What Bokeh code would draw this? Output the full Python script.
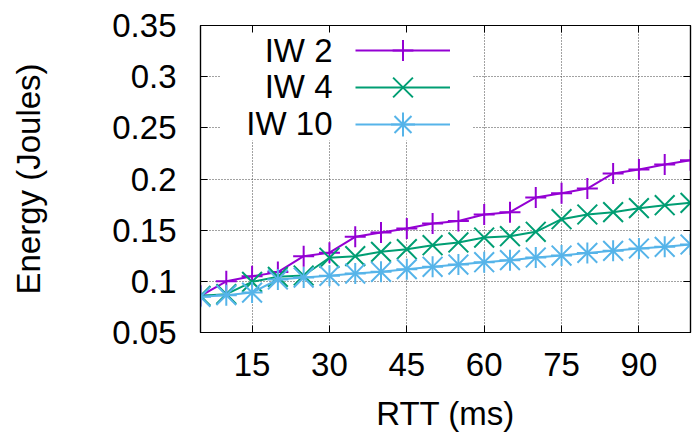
from bokeh.plotting import figure
from bokeh.models import (Range1d, FixedTicker, LinearAxis, Legend, LegendItem,
                          Label, BoxAnnotation, CustomJSTickFormatter)
from bokeh.core.properties import value
from bokeh.embed import file_html
from bokeh.resources import INLINE

# ---- data ----
rtt = [5, 10, 15, 20, 25, 30, 35, 40, 45, 50, 55, 60, 65, 70, 75, 80, 85, 90, 95, 100]
iw2 = [0.0858, 0.1000, 0.1050, 0.1090, 0.1246, 0.1280, 0.1435, 0.1477, 0.1516, 0.1565,
       0.1590, 0.1653, 0.1676, 0.1820, 0.1860, 0.1907, 0.2054, 0.2093, 0.2142, 0.2184]
iw4 = [0.0858, 0.0875, 0.0995, 0.1044, 0.1057, 0.1230, 0.1246, 0.1288, 0.1314, 0.1353,
       0.1380, 0.1428, 0.1441, 0.1484, 0.1607, 0.1653, 0.1676, 0.1715, 0.1744, 0.1767]
iw10 = [0.0849, 0.0865, 0.0890, 0.1018, 0.1037, 0.1054, 0.1076, 0.1093, 0.1119, 0.1142,
        0.1164, 0.1187, 0.1207, 0.1233, 0.1252, 0.1278, 0.1298, 0.1321, 0.1337, 0.1360]
series_names = ["IW 2", "IW 4", "IW 10"]
x_ticks = [15, 30, 45, 60, 75, 90]
y_ticks = [0.05, 0.10, 0.15, 0.20, 0.25, 0.30, 0.35]
y_tick_labels = ["0.05", "0.1", "0.15", "0.2", "0.25", "0.3", "0.35"]

FONT = "Liberation Sans"
FS = "33px"
colors = ["#9400d3", "#009e73", "#56b4e9"]
# gnuplot point types: + , x , * (= + overlaid with x)
marker_sets = [[("cross", 21)], [("x", 28)], [("cross", 21), ("x", 28)]]
legend_glyph_h = [52, 70, 60]

FW, FH = 490, 307
p = figure(frame_width=FW, frame_height=FH, output_backend="svg", toolbar_location=None,
           x_range=Range1d(5, 100), y_range=Range1d(0.05, 0.35),
           min_border_left=200, min_border_right=3, min_border_top=25,
           min_border_bottom=111)
p.background_fill_color = "white"
p.border_fill_color = "white"
p.outline_line_color = "black"
p.outline_line_width = 1.2
p.outline_line_alpha = 1.0

for ax in (p.xaxis[0], p.yaxis[0]):
    ax.major_label_text_font = FONT
    ax.major_label_text_font_size = FS
    ax.major_label_text_color = "black"
    ax.axis_label_text_font = FONT
    ax.axis_label_text_font_size = FS
    ax.axis_label_text_font_style = "normal"
    ax.axis_label_text_color = "black"
    ax.major_tick_in = 7
    ax.major_tick_out = 0
    ax.minor_tick_in = 0
    ax.minor_tick_out = 0
    ax.axis_line_color = "black"
    ax.axis_line_width = 1.2
    ax.major_tick_line_color = "black"

p.xaxis[0].ticker = FixedTicker(ticks=x_ticks)
p.yaxis[0].ticker = FixedTicker(ticks=y_ticks)
p.yaxis[0].major_label_overrides = {t: l for t, l in zip(y_ticks, y_tick_labels)}
p.xaxis[0].axis_label = "RTT (ms)"
p.yaxis[0].axis_label = "Energy (Joules)"
p.xaxis[0].major_label_standoff = 20
p.xaxis[0].axis_label_standoff = 16
p.yaxis[0].major_label_standoff = 24
p.yaxis[0].axis_label_standoff = 62

# mirror ticks (no labels)
for side, tk in (("right", y_ticks), ("above", x_ticks)):
    a = LinearAxis(ticker=FixedTicker(ticks=tk),
                   formatter=CustomJSTickFormatter(code="return ''"),
                   major_label_standoff=0, major_tick_in=7, major_tick_out=0,
                   minor_tick_in=0, minor_tick_out=0, axis_line_color="black",
                   axis_line_width=1.2, major_tick_line_color="black")
    p.add_layout(a, side)

for g in (p.xgrid[0], p.ygrid[0]):
    g.grid_line_color = "#444444"
    g.grid_line_dash = "1 2"
    g.grid_line_width = 1
p.xgrid[0].ticker = FixedTicker(ticks=x_ticks)
p.ygrid[0].ticker = FixedTicker(ticks=y_ticks)

rends = []
for name, ys, c, ms in zip(series_names, [iw2, iw4, iw10], colors, marker_sets):
    rr = [p.line(rtt, ys, line_color=c, line_width=2)]
    for m, s in ms:
        rr.append(p.scatter(rtt, ys, marker=m, size=s, line_color=c, line_width=2,
                            fill_color=None))
    rends.append(rr)

# legend region (white box hiding grid), gnuplot-style: text right, sample left
box = BoxAnnotation(left=20, right=272, top=FH, bottom=FH - 115,
                    left_units="screen", right_units="screen",
                    top_units="screen", bottom_units="screen",
                    fill_color="white", fill_alpha=1.0, line_color=None, level="underlay")
p.add_layout(box)

row_centers = [25, 62.3, 99.3]   # px below frame top
text_centers = [25.3, 60.8, 98.2]
for name, rr, rc, tc, gh in zip(series_names, rends, row_centers, text_centers,
                                legend_glyph_h):
    leg = Legend(items=[LegendItem(label=value(""), renderers=rr)],
                 location=(155, FH - rc - gh / 2), glyph_width=95, glyph_height=gh,
                 spacing=0, padding=0, margin=0, label_standoff=0, label_width=0,
                 background_fill_alpha=0, border_line_alpha=0)
    p.add_layout(leg)
    p.add_layout(Label(x=132, y=FH - tc, x_units="screen", y_units="screen",
                       text=name, text_align="right", text_baseline="middle",
                       text_font=FONT, text_font_size=FS, text_color="black"))

open("out.html", "w").write(file_html(p, INLINE))
